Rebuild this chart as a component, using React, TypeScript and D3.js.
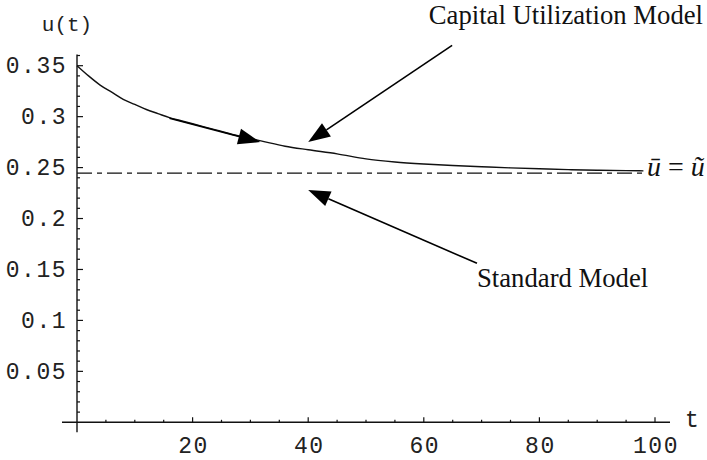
import React, { useEffect, useRef } from 'react';
import * as d3 from 'd3';

// capital utilization model path
const tValues = [0, 2, 4, 6, 8, 10, 12, 14, 16, 18, 20, 24, 28, 32, 36, 40, 45, 50, 55, 60, 65, 70, 75, 80, 85, 90, 95, 98];
const uValues = [0.35, 0.34, 0.331, 0.324, 0.317, 0.312, 0.307, 0.303, 0.299, 0.296, 0.293, 0.287, 0.281, 0.276, 0.271, 0.2675, 0.2635, 0.2585, 0.2555, 0.2535, 0.252, 0.2508, 0.2497, 0.2488, 0.248, 0.2474, 0.247, 0.2468];

// standard model steady state
const standardU = 0.2445;
const standardRange = [0, 98];

const yTickLabels = ['0.05', '0.1', '0.15', '0.2', '0.25', '0.3', '0.35'];
const xTickLabels = ['20', '40', '60', '80', '100'];

// arrows: [tailT, tailU, tipT, tipU]
const arrows = [
    [16, 0.2985, 31.7, 0.275],
    [64.9, 0.37, 40, 0.275],
    [69.2, 0.156, 40, 0.228],
];

const App = () => {
    const svgRef = useRef(null);

    useEffect(() => {
        const svg = d3.select(svgRef.current);
        svg.selectAll('*').remove();

        const x = d3.scaleLinear().domain([0, 100]).range([77, 655]);
        const y = d3.scaleLinear().domain([0, 0.35]).range([422.3, 65.7]);
        const mono = '"Liberation Mono", "Courier New", monospace';
        const serif = '"Liberation Serif", "Times New Roman", serif';
        const ink = '#111';

        // axes
        svg.append('line')
            .attr('x1', x(0)).attr('x2', x(0))
            .attr('y1', y(0.36) - 1).attr('y2', y(0) + 10)
            .attr('stroke', ink).attr('stroke-width', 1.4);
        svg.append('line')
            .attr('x1', x(0) - 15).attr('x2', 670)
            .attr('y1', y(0)).attr('y2', y(0))
            .attr('stroke', ink).attr('stroke-width', 1.4);

        // y ticks
        const yMinor = d3.range(1, 37).map(i => i / 100);
        svg.append('g').selectAll('line')
            .data(yMinor)
            .enter()
            .append('line')
            .attr('x1', x(0))
            .attr('x2', d => x(0) + (Math.round(d * 100) % 5 === 0 ? 6 : 3))
            .attr('y1', d => y(d)).attr('y2', d => y(d))
            .attr('stroke', ink).attr('stroke-width', 1.2);

        svg.append('g').selectAll('text')
            .data(yTickLabels)
            .enter()
            .append('text')
            .attr('x', x(0) - 10)
            .attr('y', d => y(+d) + 7.5)
            .attr('text-anchor', 'end')
            .style('font-family', mono)
            .style('font-size', '23px')
            .style('letter-spacing', '1.5px')
            .attr('fill', '#222')
            .text(d => d);

        // x ticks
        const xMinor = d3.range(5, 101, 5);
        svg.append('g').selectAll('line')
            .data(xMinor)
            .enter()
            .append('line')
            .attr('x1', d => x(d)).attr('x2', d => x(d))
            .attr('y1', y(0))
            .attr('y2', d => y(0) - (d % 20 === 0 ? 5 : 2.5))
            .attr('stroke', ink).attr('stroke-width', 1.2);

        svg.append('g').selectAll('text')
            .data(xTickLabels)
            .enter()
            .append('text')
            .attr('x', d => x(+d) + 1)
            .attr('y', 453)
            .attr('text-anchor', 'middle')
            .style('font-family', mono)
            .style('font-size', '23px')
            .style('letter-spacing', '1.5px')
            .attr('fill', '#222')
            .text(d => d);

        // axis names
        svg.append('text')
            .attr('x', 67).attr('y', 31)
            .attr('text-anchor', 'middle')
            .style('font-family', mono).style('font-size', '21px')
            .attr('fill', '#222')
            .text('u(t)');
        svg.append('text')
            .attr('x', 692).attr('y', 427)
            .attr('text-anchor', 'middle')
            .style('font-family', mono).style('font-size', '23px')
            .attr('fill', '#222')
            .text('t');

        // standard model (dash-dot)
        svg.append('line')
            .attr('x1', x(standardRange[0])).attr('x2', x(standardRange[1]))
            .attr('y1', y(standardU)).attr('y2', y(standardU))
            .attr('stroke', ink).attr('stroke-width', 1.3)
            .attr('stroke-dasharray', '15,5,5,5');

        // capital utilization curve
        const line = d3.line()
            .x(d => x(d[0]))
            .y(d => y(d[1]))
            .curve(d3.curveMonotoneX);
        svg.append('path')
            .datum(tValues.map((t, i) => [t, uValues[i]]))
            .attr('d', line)
            .attr('fill', 'none')
            .attr('stroke', ink)
            .attr('stroke-width', 1.4);

        // arrows
        const headLen = 22;
        const headHalf = 8;
        arrows.forEach(([t0, u0, t1, u1]) => {
            const x0 = x(t0), y0 = y(u0), x1 = x(t1), y1 = y(u1);
            const ang = Math.atan2(y1 - y0, x1 - x0);
            const bx = x1 - headLen * Math.cos(ang);
            const by = y1 - headLen * Math.sin(ang);
            svg.append('line')
                .attr('x1', x0).attr('y1', y0)
                .attr('x2', bx).attr('y2', by)
                .attr('stroke', '#000').attr('stroke-width', 1.6);
            const px = -Math.sin(ang) * headHalf;
            const py = Math.cos(ang) * headHalf;
            svg.append('path')
                .attr('d', `M${x1},${y1}L${bx + px},${by + py}L${bx - px},${by - py}Z`)
                .attr('fill', '#000');
        });

        // annotations
        svg.append('text')
            .attr('x', 703).attr('y', 24)
            .attr('text-anchor', 'end')
            .style('font-family', serif).style('font-size', '26.7px')
            .attr('fill', '#111')
            .text('Capital Utilization Model');
        svg.append('text')
            .attr('x', 477).attr('y', 287)
            .style('font-family', serif).style('font-size', '26.7px')
            .attr('fill', '#111')
            .text('Standard Model');

        const eq = svg.append('text')
            .attr('x', 647).attr('y', 176)
            .style('font-family', serif).style('font-size', '28px')
            .attr('fill', '#111');
        eq.append('tspan').style('font-style', 'italic').text('u\u0304');
        eq.append('tspan').text(' = ');
        eq.append('tspan').style('font-style', 'italic').text('u\u0303');
    }, []);

    return (
        <svg
            ref={svgRef}
            width={707}
            height={460}
            style={{ position: 'absolute', left: 0, top: 0, background: '#fff' }}
        />
    );
};

export default App;
